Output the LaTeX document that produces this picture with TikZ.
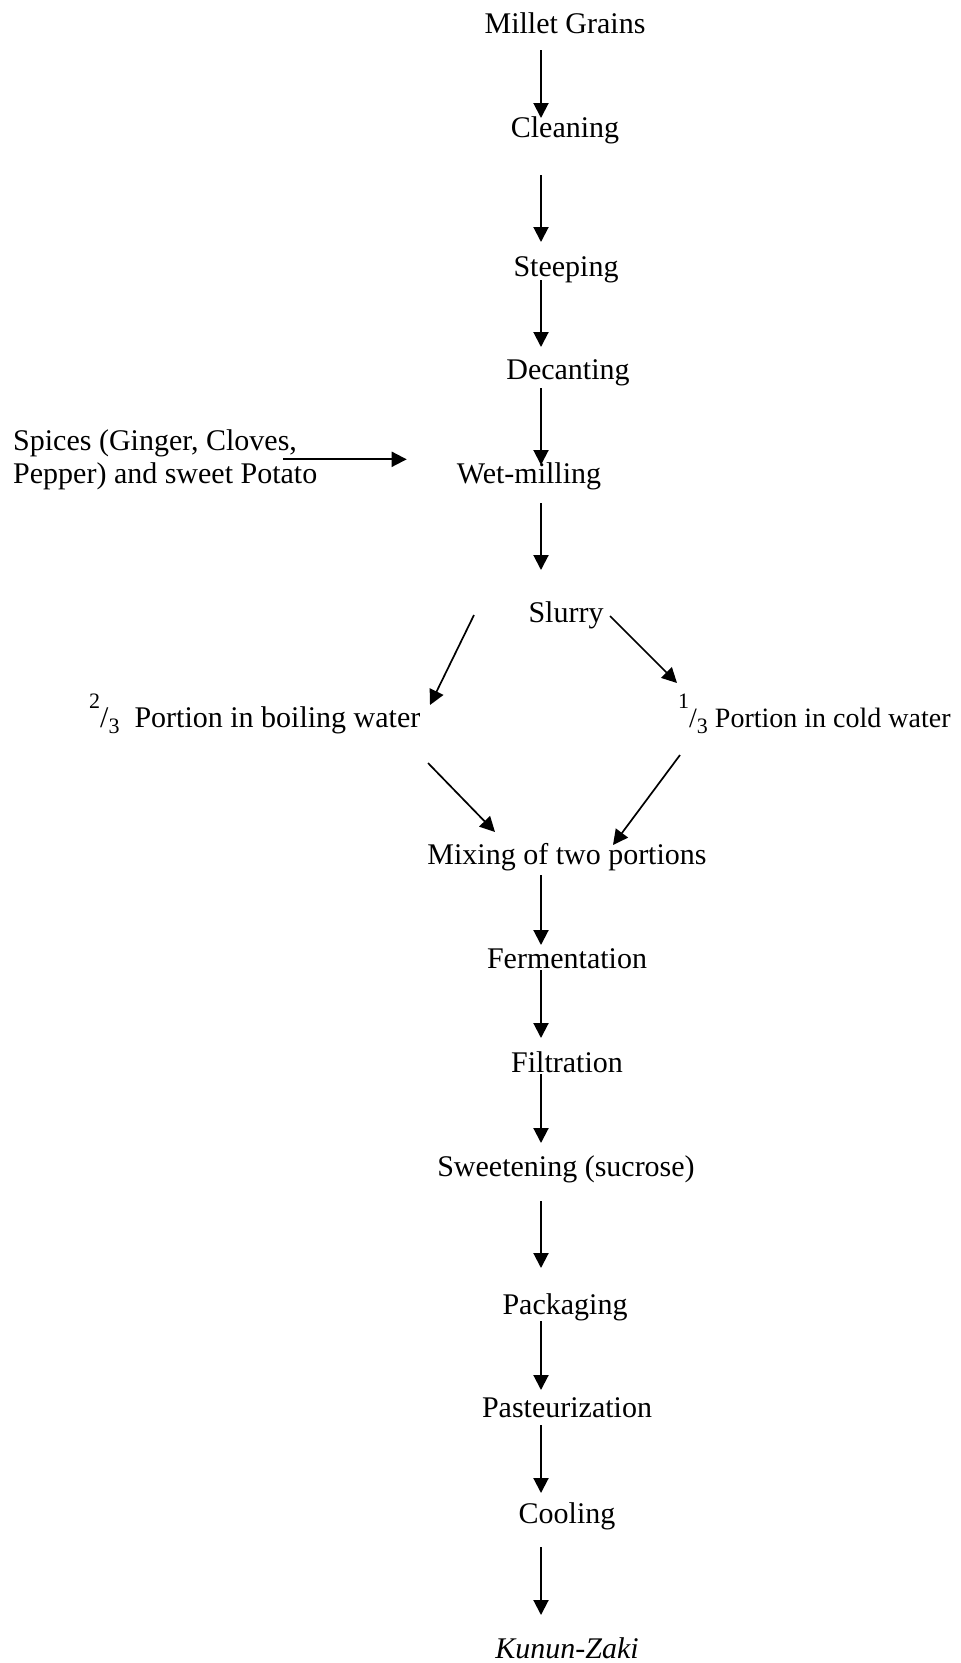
\documentclass[tikz,border=0pt]{standalone}
\usepackage{fontspec}
\setmainfont{Liberation Serif}
\usetikzlibrary{arrows.meta}

\newcommand{\portionfrac}[2]{\raisebox{19pt}{\fontsize{22}{22}\selectfont #1}/\raisebox{-6pt}{\fontsize{22}{22}\selectfont #2}}

\begin{document}
\begin{tikzpicture}[x=1pt,y=-1pt]

\tikzset{stage/.style = {inner sep=0pt, anchor=base, font=\fontsize{30}{33}\selectfont}}
\tikzset{flow/.style = {-{Triangle[length=15pt,width=15pt]}, line width=2pt}}
\tikzset{split/.style = {flow, line width=1.7pt}}
\useasboundingbox (0,0) rectangle (961,1663);
%stages
\node[stage] (mg) at (565,33) {Millet Grains};
\node[stage] (cl) at (565,137) {Cleaning};
\node[stage] (st) at (566,276) {Steeping};
\node[stage] (dc) at (568,379) {Decanting};
\node[stage] (wm) at (529,483) {Wet-milling};
\node[stage, anchor=north west, align=left] (sp) at (13,429) {Spices (Ginger, Cloves,\\Pepper) and sweet Potato};
\node[stage] (sl) at (566,622) {Slurry};
\node[stage, anchor=base west] (bw) at (89,727) {\portionfrac{2}{3}\hspace{15pt}Portion in boiling water};
\node[stage, anchor=base west, font=\fontsize{28}{33}\selectfont] (cw) at (678,727) {\portionfrac{1}{3} Portion in cold water};
\node[stage] (mx) at (567,864) {Mixing of two portions};
\node[stage] (fe) at (567,968) {Fermentation};
\node[stage] (fi) at (567,1072) {Filtration};
\node[stage] (sw) at (566,1176) {Sweetening (sucrose)};
\node[stage] (pk) at (565,1314) {Packaging};
\node[stage] (ps) at (567,1417) {Pasteurization};
\node[stage] (co) at (567,1523) {Cooling};
\node[stage] (kz) at (567,1658) {\textit{Kunun-Zaki}};
%free ends
\coordinate (axis) at (541,0);
\coordinate (sl-l) at (474,615);
\coordinate (bw-in) at (430,705);
\coordinate (sl-r) at (610,616);
\coordinate (cw-in) at (677,683);
\coordinate (bw-out) at (428,763);
\coordinate (mx-l) at (495,832);
\coordinate (cw-out) at (680,755);
\coordinate (mx-r) at (613,845);
%arrows
\draw [flow, shorten <=17pt, shorten >=19pt] (mg.base -| axis) -- (cl.base -| axis);
\draw [flow, shorten <=38pt, shorten >=34pt] (cl.base -| axis) -- (st.base -| axis);
\draw [flow, shorten <=4pt, shorten >=32pt] (st.base -| axis) -- (dc.base -| axis);
\draw [flow, shorten <=9pt, shorten >=18pt] (dc.base -| axis) -- (wm.base -| axis);
\draw [flow, shorten <=-34pt, shorten >=50pt] (sp.east) -- (sp.east -| wm.west);
\draw [flow, shorten <=20pt, shorten >=52pt] (wm.base -| axis) -- (sl.base -| axis);
\draw [split] (sl-l) -- (bw-in);
\draw [split] (sl-r) -- (cw-in);
\draw [split] (bw-out) -- (mx-l);
\draw [split] (cw-out) -- (mx-r);
\draw [flow, shorten <=11pt, shorten >=23pt] (mx.base -| axis) -- (fe.base -| axis);
\draw [flow, shorten <=2pt, shorten >=34pt] (fe.base -| axis) -- (fi.base -| axis);
\draw [flow, shorten <=2pt, shorten >=33pt] (fi.base -| axis) -- (sw.base -| axis);
\draw [flow, shorten <=25pt, shorten >=46pt] (sw.base -| axis) -- (pk.base -| axis);
\draw [flow, shorten <=7pt, shorten >=27pt] (pk.base -| axis) -- (ps.base -| axis);
\draw [flow, shorten <=8pt, shorten >=30pt] (ps.base -| axis) -- (co.base -| axis);
\draw [flow, shorten <=24pt, shorten >=43pt] (co.base -| axis) -- (kz.base -| axis);

\end{tikzpicture}
\end{document}
